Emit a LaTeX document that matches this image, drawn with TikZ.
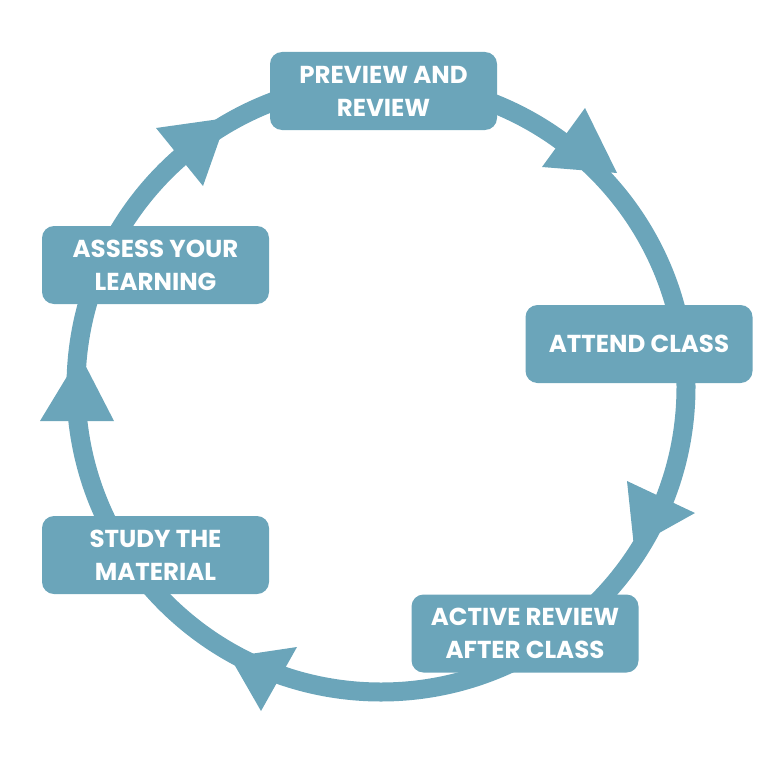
\documentclass[tikz,border=0pt]{standalone}
\usepackage{fontspec}
\setmainfont{Poppins}
\definecolor{ringblue}{RGB}{107,165,186}
\begin{document}
\begin{tikzpicture}[x=1pt,y=-1pt,
  stepbox/.style={fill=ringblue, rounded corners=12pt, minimum width=227pt, minimum height=78pt,
    inner sep=0pt, text=white, align=center, font=\fontsize{24.5}{33}\selectfont\bfseries},
  tri/.style={fill=ringblue}]
\useasboundingbox (0,0) rectangle (768,768);
\draw[ringblue, line width=19pt] (381,387) circle[radius=305];
% arrowheads
\fill[tri] (156,128) -- (203,186) -- (227,118) -- cycle;
\fill[tri] (585,108) -- (542,167) -- (617,173) -- cycle;
\fill[tri] (627,481) -- (695,513) -- (634,547) -- cycle;
\fill[tri] (230,657) -- (297,647) -- (261,711) -- cycle;
\fill[tri] (40,421) -- (114,421) -- (80,355) -- cycle;
% boxes
\node[stepbox] (preview) at (383.5,91) {PREVIEW AND\\REVIEW};
\node[stepbox] (attend) at (639,344) {ATTEND CLASS};
\node[stepbox] (active) at (525,633.5) {ACTIVE REVIEW\\AFTER CLASS};
\node[stepbox] (study) at (155.5,555) {STUDY THE\\MATERIAL};
\node[stepbox] (assess) at (155.5,265) {ASSESS YOUR\\LEARNING};
\end{tikzpicture}
\end{document}
